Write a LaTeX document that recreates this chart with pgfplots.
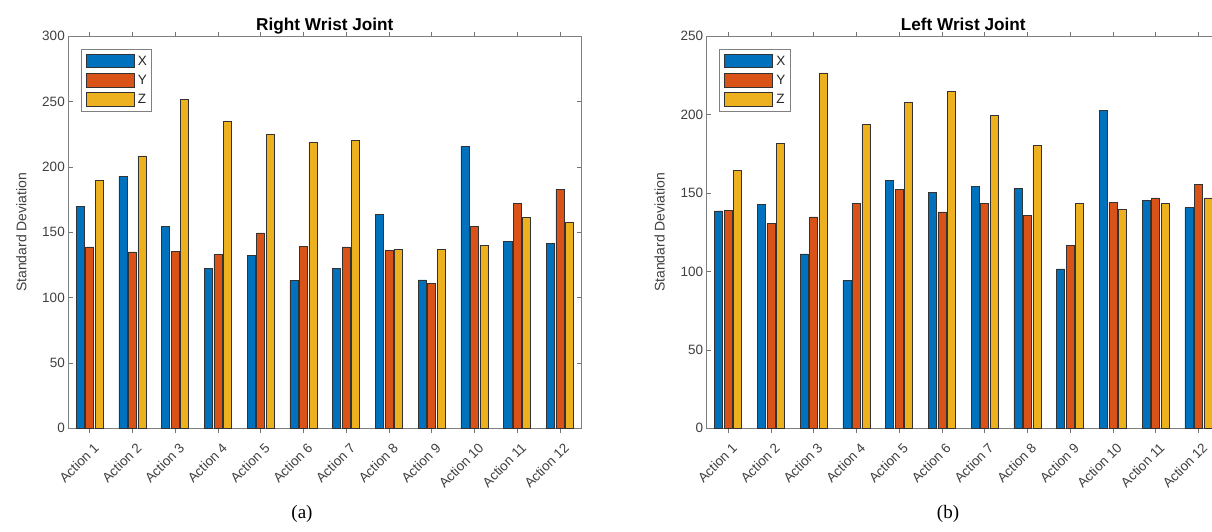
\documentclass[border=0pt]{standalone}
\usepackage{fontspec}
\setmainfont{Liberation Sans}
\newfontfamily\capfont{Liberation Serif}
\usepackage{pgfplots}
\pgfplotsset{compat=1.18}
\definecolor{mX}{rgb}{0,0.447,0.741}
\definecolor{mY}{rgb}{0.85,0.325,0.098}
\definecolor{mZ}{rgb}{0.929,0.694,0.125}
\pgfplotsset{
  mybars/.style={
    width=513pt, height=392pt, scale only axis,
    xmin=0.5, xmax=12.5, ymin=0,
    xtick={1,2,3,4,5,6,7,8,9,10,11,12},
    xticklabels={Action 1,Action 2,Action 3,Action 4,Action 5,Action 6,Action 7,Action 8,Action 9,Action 10,Action 11,Action 12},
    tick align=inside, major tick length=4.5pt,
    axis line style={draw=black!50, line width=0.6pt},
    every tick/.style={draw=black!55, line width=0.6pt},
    tick label style={font=\fontsize{13.5}{14}\selectfont, text=black!75},
    /pgf/number format/assume math mode=true,
    xticklabel style={anchor=north east, inner sep=0pt, xshift=3pt, yshift=-9pt, rotate=45},
    ylabel={Standard Deviation},
    every axis y label/.style={at={(axis description cs:0,0.5)}, xshift=-47pt, rotate=90, anchor=center,
      font=\fontsize{14}{14}\selectfont, text=black!75},
    every axis title shift=0pt,
    title style={font=\bfseries\fontsize{17.2}{17.2}\selectfont, at={(axis description cs:0.5,1)}, anchor=base, yshift=6pt},
    ybar, bar width=0.19,
    legend style={at={(axis description cs:0,1)}, anchor=north west, xshift=12.7pt, yshift=-12.3pt,
      draw=black!50, line width=0.6pt, fill=white,
      font=\fontsize{13.5}{14}\selectfont, text=black!85,
      nodes={inner sep=0pt}, row sep=5.2pt, column sep=3.7pt, inner xsep=4.7pt, inner ysep=5.2pt},
    legend cell align=left,
    legend image code/.code={\draw[##1, line width=0.6pt] (0pt,-5.8pt) rectangle (47.6pt,7.5pt);},
  }
}
\begin{document}
\begin{tikzpicture}
\begin{axis}[mybars, at={(68.3pt,102.7pt)}, anchor=south west, ymax=300, ytick={0,50,...,300},
  title={Right Wrist Joint}]
\addplot[fill=mX, draw=black!80, line width=0.5pt, bar shift=-0.222] coordinates {(1,169.6) (2,192.9) (3,154.8) (4,122.2) (5,132.1) (6,113) (7,122.2) (8,164) (9,113.5) (10,215.8) (11,143.1) (12,141.8)};
\addplot[fill=mY, draw=black!80, line width=0.5pt, bar shift=0] coordinates {(1,138.8) (2,135) (3,135.5) (4,133.2) (5,149.5) (6,139.5) (7,138.8) (8,136) (9,111) (10,154.6) (11,172.4) (12,182.9)};
\addplot[fill=mZ, draw=black!80, line width=0.5pt, bar shift=0.222] coordinates {(1,190) (2,208.4) (3,252) (4,235) (5,225) (6,218.6) (7,220.2) (8,136.7) (9,137.2) (10,140) (11,161.2) (12,157.7)};
\legend{X,Y,Z}
\end{axis}
\begin{axis}[mybars, at={(706.7pt,102.7pt)}, anchor=south west, ymax=250, ytick={0,50,...,250},
  title={Left Wrist Joint}]
\addplot[fill=mX, draw=black!80, line width=0.5pt, bar shift=-0.222] coordinates {(1,138.6) (2,143) (3,111.2) (4,94.4) (5,158.3) (6,150.7) (7,154.1) (8,153) (9,101.7) (10,202.7) (11,145.6) (12,140.7)};
\addplot[fill=mY, draw=black!80, line width=0.5pt, bar shift=0] coordinates {(1,139) (2,130.5) (3,134.8) (4,143.5) (5,152.2) (6,138) (7,143.3) (8,135.6) (9,116.5) (10,144.1) (11,147) (12,155.6)};
\addplot[fill=mZ, draw=black!80, line width=0.5pt, bar shift=0.222] coordinates {(1,164.5) (2,181.5) (3,226.7) (4,193.8) (5,208) (6,214.8) (7,199.7) (8,180.4) (9,143.3) (10,139.6) (11,143.3) (12,147)};
\legend{X,Y,Z}
\end{axis}
\node[font=\capfont\fontsize{19}{19}\selectfont] at (302pt,17pt) {(a)};
\node[font=\capfont\fontsize{19}{19}\selectfont] at (948pt,17pt) {(b)};
\pgfresetboundingbox
\path[use as bounding box] (0pt,0pt) rectangle (1212pt,531pt);
\end{tikzpicture}
\end{document}
